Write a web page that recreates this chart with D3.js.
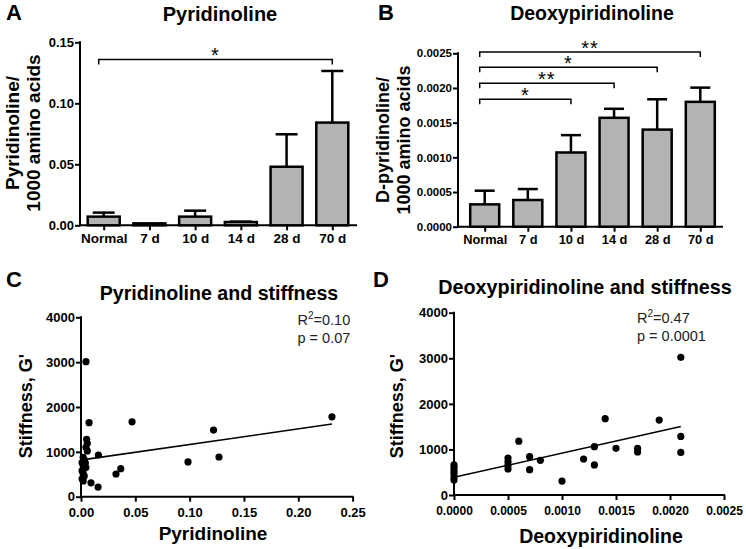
<!DOCTYPE html>
<html><head><meta charset="utf-8">
<script src="https://cdn.jsdelivr.net/npm/d3@7"></script>
<style>body{margin:0;background:#fff} text{font-family:"Liberation Sans",Arial,sans-serif}</style>
</head><body><svg id="chart" width="746" height="549"></svg>
<script>
// ---------- data ----------
const categories = ["Normal", "7 d", "10 d", "14 d", "28 d", "70 d"];
const pyrMean = [0.0071, 0.0016, 0.0071, 0.0027, 0.0480, 0.0842];
const pyrUpper = [0.0104, 0.0016, 0.0120, 0.0030, 0.0746, 0.1265];
const dpyrMean = [0.000322, 0.000385, 0.00107, 0.00157, 0.00140, 0.00180];
const dpyrUpper = [0.000519, 0.000543, 0.00132, 0.00170, 0.001837, 0.002005];
const pyrTicks = [0, 0.05, 0.10, 0.15];
const dpyrTicks = [0, 0.0005, 0.0010, 0.0015, 0.0020, 0.0025];
const pyrSigTo = ["70 d"], pyrSigLevel = [0.136], pyrSigLabel = ["*"];
const dpyrSigTo = ["10 d", "14 d", "28 d", "70 d"];
const dpyrSigLevel = [0.001837, 0.002067, 0.002298, 0.002519];
const dpyrSigLabel = ["*", "**", "*", "**"];

const pyrX = [0.0046, 0.0074, 0.0052, 0.0058, 0.0046, 0.0058, 0.016,
  0.002, 0.003, 0.001, 0.002, 0.003, 0.001, 0.002, 0.003, 0.001, 0.002, 0.004, 0.0045,
  0.0092, 0.0157, 0.0322, 0.0366, 0.047, 0.0985, 0.122, 0.127, 0.231];
const pyrStiff = [3010, 1650, 1280, 1190, 1100, 1020, 930,
  880, 820, 760, 700, 640, 580, 520, 460, 400, 350, 750, 650,
  310, 215, 506, 624, 1670, 775, 1485, 885, 1780];
const pyrFit = [818, 3470]; // intercept, slope
const pyrXTicks = [0, 0.05, 0.10, 0.15, 0.20, 0.25];

const dpyrX = [0, 0, 0, 0, 0, 0, 0.0005, 0.0005, 0.0005, 0.0005, 0.0006, 0.0007, 0.0007,
  0.0008, 0.0010, 0.0012, 0.0013, 0.0013, 0.0014, 0.0015, 0.0017, 0.0017, 0.0019,
  0.0021, 0.0021, 0.0021];
const dpyrStiff = [330, 400, 470, 530, 600, 660, 570, 650, 730, 810, 1180, 840, 555,
  760, 305, 790, 1060, 660, 1675, 1025, 1025, 945, 1645, 3020, 1285, 935];
const dpyrFit = [388, 531600];
const dpyrXTicks = [0, 0.0005, 0.0010, 0.0015, 0.0020, 0.0025];
const stiffTicks = [0, 1000, 2000, 3000, 4000];

// ---------- drawing ----------
const svg = d3.select("#chart");
svg.append("rect").attr("width", 746).attr("height", 549).attr("fill", "#fff");

function styleAxis(g, fs) {
  g.select(".domain").remove();
  g.selectAll(".tick line").attr("stroke", "#000").attr("stroke-width", 2);
  g.selectAll(".tick text").attr("fill", "#000").attr("font-size", fs)
    .attr("font-weight", "bold").attr("font-family", '"Liberation Sans",Arial,sans-serif');
}
function axisLine(x1, y1, x2, y2) {
  svg.append("line").attr("x1", x1).attr("y1", y1).attr("x2", x2).attr("y2", y2)
    .attr("stroke", "#000").attr("stroke-width", 2).attr("stroke-linecap", "square");
}
function label(x, y, txt, fs, opts = {}) {
  const t = svg.append("text").attr("x", x).attr("y", y).text(txt)
    .attr("font-size", fs).attr("font-weight", opts.weight || "bold")
    .attr("text-anchor", opts.anchor || "start").attr("fill", opts.fill || "#000");
  if (opts.rotate) t.attr("transform", `rotate(-90,${x},${y})`);
  return t;
}

function barPanel(cfg) {
  const x = d3.scalePoint().domain(categories).range(cfg.xr);
  const y = d3.scaleLinear().domain([0, cfg.ticks[cfg.ticks.length - 1]]).range(cfg.yr);
  const ga = svg.append("g").attr("transform", `translate(${cfg.ax},0)`)
    .call(d3.axisLeft(y).tickValues(cfg.ticks).tickSize(5).tickPadding(1).tickFormat(d3.format(cfg.fmt)));
  styleAxis(ga, cfg.yfs);
  const gb = svg.append("g").attr("transform", `translate(0,${cfg.yr[0]})`)
    .call(d3.axisBottom(x).tickSize(5).tickPadding(3));
  styleAxis(gb, cfg.xfs);
  axisLine(cfg.ax, cfg.yr[1], cfg.ax, cfg.yr[0]);
  axisLine(cfg.ax, cfg.yr[0], cfg.xend, cfg.yr[0]);
  categories.forEach((c, i) => {
    const cx = x(c);
    if (cfg.upper[i] > cfg.mean[i]) {
      svg.append("line").attr("x1", cx).attr("x2", cx).attr("y1", y(cfg.mean[i])).attr("y2", y(cfg.upper[i]))
        .attr("stroke", "#000").attr("stroke-width", 2.5);
      svg.append("line").attr("x1", cx - cfg.cap / 2).attr("x2", cx + cfg.cap / 2)
        .attr("y1", y(cfg.upper[i])).attr("y2", y(cfg.upper[i]))
        .attr("stroke", "#000").attr("stroke-width", 2.5);
    }
  });
  svg.append("g").selectAll("rect").data(categories).join("rect")
    .attr("x", d => x(d) - cfg.bw / 2).attr("width", cfg.bw)
    .attr("y", (d, i) => y(cfg.mean[i])).attr("height", (d, i) => y(0) - y(cfg.mean[i]))
    .attr("fill", "#b3b3b3").attr("stroke", "#000").attr("stroke-width", 2.5);
  cfg.sigTo.forEach((to, i) => {
    const x1 = x("Normal") - 5, x2 = x(to), yy = y(cfg.sigLevel[i]);
    svg.append("path").attr("d", `M${x1},${yy + 5}V${yy}H${x2}V${yy + 5}`)
      .attr("fill", "none").attr("stroke", "#000").attr("stroke-width", 1.5);
    label((x1 + x2) / 2, yy + 3, cfg.sigLabel[i], 20, { anchor: "middle", weight: "normal" })
      .attr("letter-spacing", 1);
  });
}

barPanel({ xr: [103.7, 332.3], yr: [225.3, 42.3], ax: 80, xend: 356, ticks: pyrTicks, fmt: ".2f",
  mean: pyrMean, upper: pyrUpper, bw: 32, cap: 22, yfs: 13, xfs: 13.5,
  sigTo: pyrSigTo, sigLevel: pyrSigLevel, sigLabel: pyrSigLabel });
barPanel({ xr: [484.7, 700.3], yr: [226.7, 53.3], ax: 458, xend: 722, ticks: dpyrTicks, fmt: ".4f",
  mean: dpyrMean, upper: dpyrUpper, bw: 29, cap: 20, yfs: 11.5, xfs: 12.8,
  sigTo: dpyrSigTo, sigLevel: dpyrSigLevel, sigLabel: dpyrSigLabel });

function scatterPanel(cfg) {
  const x = d3.scaleLinear().domain([0, cfg.xticks[cfg.xticks.length - 1]]).range(cfg.xr);
  const y = d3.scaleLinear().domain([0, 4000]).range(cfg.yr);
  const ga = svg.append("g").attr("transform", `translate(${cfg.xr[0]},0)`)
    .call(d3.axisLeft(y).tickValues(stiffTicks).tickSize(5).tickPadding(1).tickFormat(d3.format("d")));
  styleAxis(ga, 13);
  const gb = svg.append("g").attr("transform", `translate(0,${cfg.yr[0]})`)
    .call(d3.axisBottom(x).tickValues(cfg.xticks).tickSize(5).tickPadding(6).tickFormat(d3.format(cfg.fmt)));
  styleAxis(gb, cfg.xfs);
  axisLine(cfg.xr[0], cfg.yr[1], cfg.xr[0], cfg.yr[0]);
  axisLine(cfg.xr[0], cfg.yr[0], cfg.xr[1], cfg.yr[0]);
  svg.append("g").selectAll("circle").data(cfg.xs).join("circle")
    .attr("cx", d => x(d)).attr("cy", (d, i) => y(cfg.ys[i])).attr("r", 3.6).attr("fill", "#000");
  const x0 = d3.min(cfg.xs), x1 = d3.max(cfg.xs);
  svg.append("line").attr("x1", x(x0)).attr("y1", y(cfg.fit[0] + cfg.fit[1] * x0))
    .attr("x2", x(x1)).attr("y2", y(cfg.fit[0] + cfg.fit[1] * x1))
    .attr("stroke", "#000").attr("stroke-width", 1.6);
  const r = label(cfg.statX, cfg.statY, "R", 14.5, { weight: "normal", fill: "#222" });
  r.append("tspan").attr("dy", -6).attr("font-size", 10).text("2");
  r.append("tspan").attr("dy", 6).text(cfg.r2);
  label(cfg.statX, cfg.statY + 18, cfg.p, 14.5, { weight: "normal", fill: "#222" });
}

scatterPanel({ xr: [81, 352.6], yr: [496.7, 317.3], xticks: pyrXTicks, fmt: ".2f", xfs: 13,
  xs: pyrX, ys: pyrStiff, fit: pyrFit, statX: 297.5, statY: 325, r2: "=0.10", p: "p = 0.07" });
scatterPanel({ xr: [454, 724], yr: [495, 312.7], xticks: dpyrXTicks, fmt: ".4f", xfs: 12,
  xs: dpyrX, ys: dpyrStiff, fit: dpyrFit, statX: 637, statY: 323, r2: "=0.47", p: "p = 0.0001" });

// ---------- titles and labels ----------
label(6, 20, "A", 22);
label(378, 20, "B", 22);
label(6, 287, "C", 22);
label(373, 287, "D", 22);
label(220, 21, "Pyridinoline", 20, { anchor: "middle" });
label(592, 20, "Deoxypiridinoline", 19.5, { anchor: "middle" });
label(219, 300, "Pyridinoline and stiffness", 19.6, { anchor: "middle" });
label(585, 294, "Deoxypiridinoline and stiffness", 19.8, { anchor: "middle" });
label(19, 133, "Pyridinoline/", 19, { anchor: "middle", rotate: true });
label(40, 133, "1000 amino acids", 19, { anchor: "middle", rotate: true });
label(389, 140, "D-pyridinoline/", 18, { anchor: "middle", rotate: true });
label(410, 140, "1000 amino acids", 18, { anchor: "middle", rotate: true });
label(32, 406, "Stiffness, G'", 18, { anchor: "middle", rotate: true });
label(403, 406, "Stiffness, G'", 18, { anchor: "middle", rotate: true });
label(213, 540, "Pyridinoline", 19, { anchor: "middle" });
label(601, 543, "Deoxypiridinoline", 19.5, { anchor: "middle" });
</script></body></html>
